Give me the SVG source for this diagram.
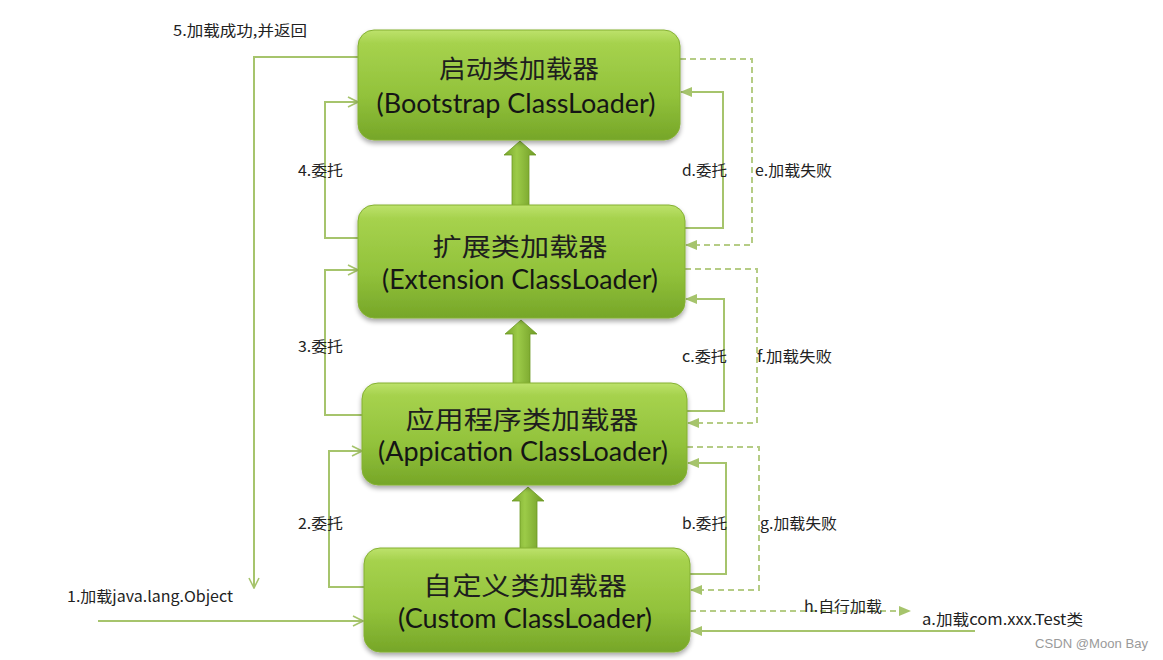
<svg xmlns="http://www.w3.org/2000/svg" width="1163" height="660" viewBox="0 0 1163 660">
<defs>
<linearGradient id="boxg" x1="0" y1="0" x2="0" y2="1">
<stop offset="0" stop-color="#bde26c"/>
<stop offset="0.12" stop-color="#a6d24d"/>
<stop offset="0.6" stop-color="#92c23b"/>
<stop offset="1" stop-color="#76a628"/>
</linearGradient>
<linearGradient id="arrg" x1="0" y1="0" x2="1" y2="0">
<stop offset="0" stop-color="#77a42a"/>
<stop offset="0.4" stop-color="#9ccb48"/>
<stop offset="1" stop-color="#6f9a25"/>
</linearGradient>
<filter id="sh" x="-10%" y="-10%" width="120%" height="130%">
<feGaussianBlur in="SourceAlpha" stdDeviation="2.5"/>
<feOffset dx="0" dy="3" result="b"/>
<feComponentTransfer><feFuncA type="linear" slope="0.35"/></feComponentTransfer>
<feMerge><feMergeNode/><feMergeNode in="SourceGraphic"/></feMerge>
</filter>
<marker id="open" viewBox="0 0 12 12" refX="11" refY="6" markerWidth="12" markerHeight="12" markerUnits="userSpaceOnUse" orient="auto">
<path d="M1,1 L11,6 L1,11" fill="none" stroke="#a6c46c" stroke-width="1.6"/>
</marker>
<marker id="fill" viewBox="0 0 12 12" refX="11" refY="6" markerWidth="12" markerHeight="12" markerUnits="userSpaceOnUse" orient="auto">
<path d="M0,1 L12,6 L0,11 Z" fill="#a6c46c"/>
</marker>
</defs>
<style>
.ln{fill:none;stroke:#a6c46c;stroke-width:2}
.ds{fill:none;stroke:#b5cc85;stroke-width:2;stroke-dasharray:6 4}
.box{fill:url(#boxg);stroke:#84b033;stroke-width:1;filter:url(#sh)}
.zh{font-family:"Noto Sans CJK SC",sans-serif;font-size:25px;fill:#1e1e1e}
.en{font-family:Lato,"Liberation Sans",sans-serif;font-size:26px;fill:#151515}
.lb{font-family:"Noto Sans CJK SC",sans-serif;font-size:15px;fill:#222}
.ba{fill:url(#arrg);stroke:#6d9a24;stroke-width:0.8}
</style>

<g id="connectors">
<path class="ln" d="M358,57 H254 V588" marker-end="url(#open)"/>
<path class="ln" d="M358,238 H325 V102 H358" marker-end="url(#open)"/>
<path class="ln" d="M362,415 H325 V270 H358" marker-end="url(#open)"/>
<path class="ln" d="M364,587 H329 V451 H362" marker-end="url(#open)"/>
<path class="ln" d="M98,621 H363" marker-end="url(#open)"/>
<path class="ln" d="M685,228 H723 V92 H681" marker-end="url(#fill)"/>
<path class="ds" d="M680,59 H752 V245 H686" marker-end="url(#fill)"/>
<path class="ln" d="M687,411 H724 V299 H686" marker-end="url(#fill)"/>
<path class="ds" d="M685,269 H757 V423 H688" marker-end="url(#fill)"/>
<path class="ln" d="M690,574 H726 V463 H688" marker-end="url(#fill)"/>
<path class="ds" d="M687,447 H759 V590 H691" marker-end="url(#fill)"/>
<path class="ds" d="M690,611 H910" marker-end="url(#fill)"/>
<path class="ln" d="M975,631 H691" marker-end="url(#fill)"/>
<path class="ba" d="M520,141 L536,155 L529,155 L529,207 L512,207 L512,155 L504,155 Z"/>
<path class="ba" d="M521,320 L537,334 L530,334 L530,384 L513,384 L513,334 L505,334 Z"/>
<path class="ba" d="M528,487 L544,501 L537,501 L537,549 L520,549 L520,501 L512,501 Z"/>
</g>

<g id="labels">
<text class="lb" x="173" y="36" textLength="134" lengthAdjust="spacingAndGlyphs">5.加载成功,并返回</text>
<text class="lb" x="298" y="176" textLength="45" lengthAdjust="spacingAndGlyphs">4.委托</text>
<text class="lb" x="298" y="352" textLength="45" lengthAdjust="spacingAndGlyphs">3.委托</text>
<text class="lb" x="298" y="529" textLength="45" lengthAdjust="spacingAndGlyphs">2.委托</text>
<text class="lb" x="67" y="602" textLength="166" lengthAdjust="spacingAndGlyphs">1.加载java.lang.Object</text>
<text class="lb" x="682" y="176" textLength="45" lengthAdjust="spacingAndGlyphs">d.委托</text>
<text class="lb" x="755" y="176" textLength="77" lengthAdjust="spacingAndGlyphs">e.加载失败</text>
<text class="lb" x="682" y="362" textLength="45" lengthAdjust="spacingAndGlyphs">c.委托</text>
<text class="lb" x="757" y="362" textLength="75" lengthAdjust="spacingAndGlyphs">f.加载失败</text>
<text class="lb" x="682" y="529" textLength="45" lengthAdjust="spacingAndGlyphs">b.委托</text>
<text class="lb" x="760" y="529" textLength="77" lengthAdjust="spacingAndGlyphs">g.加载失败</text>
<text class="lb" x="804" y="612" textLength="78" lengthAdjust="spacingAndGlyphs">h.自行加载</text>
<text class="lb" x="922" y="625" textLength="161" lengthAdjust="spacingAndGlyphs">a.加载com.xxx.Test类</text>
<text x="1035" y="648" font-family="Liberation Sans, sans-serif" font-size="13" fill="#9a9a9a" textLength="113" lengthAdjust="spacingAndGlyphs">CSDN @Moon Bay</text>
</g>

<g id="bootstrap">
<rect class="box" x="358" y="30" width="322" height="110" rx="16"/>
<text class="zh" x="519" y="78" text-anchor="middle" textLength="160" lengthAdjust="spacingAndGlyphs">启动类加载器</text>
<text class="en" x="516" y="113" text-anchor="middle" textLength="279" lengthAdjust="spacingAndGlyphs">(Bootstrap ClassLoader)</text>
</g>

<g id="extension">
<rect class="box" x="358" y="205" width="327" height="113" rx="16"/>
<text class="zh" x="520" y="256" text-anchor="middle" textLength="175" lengthAdjust="spacingAndGlyphs">扩展类加载器</text>
<text class="en" x="520" y="289" text-anchor="middle" textLength="276" lengthAdjust="spacingAndGlyphs">(Extension ClassLoader)</text>
</g>

<g id="application">
<rect class="box" x="362" y="383" width="325" height="102" rx="16"/>
<text class="zh" x="522" y="429" text-anchor="middle" textLength="233" lengthAdjust="spacingAndGlyphs">应用程序类加载器</text>
<text class="en" x="523" y="461" text-anchor="middle" textLength="290" lengthAdjust="spacingAndGlyphs">(Appication ClassLoader)</text>
</g>

<g id="custom">
<rect class="box" x="364" y="548" width="326" height="104" rx="16"/>
<text class="zh" x="525" y="595" text-anchor="middle" textLength="204" lengthAdjust="spacingAndGlyphs">自定义类加载器</text>
<text class="en" x="525" y="628" text-anchor="middle" textLength="254" lengthAdjust="spacingAndGlyphs">(Custom ClassLoader)</text>
</g>
</svg>
